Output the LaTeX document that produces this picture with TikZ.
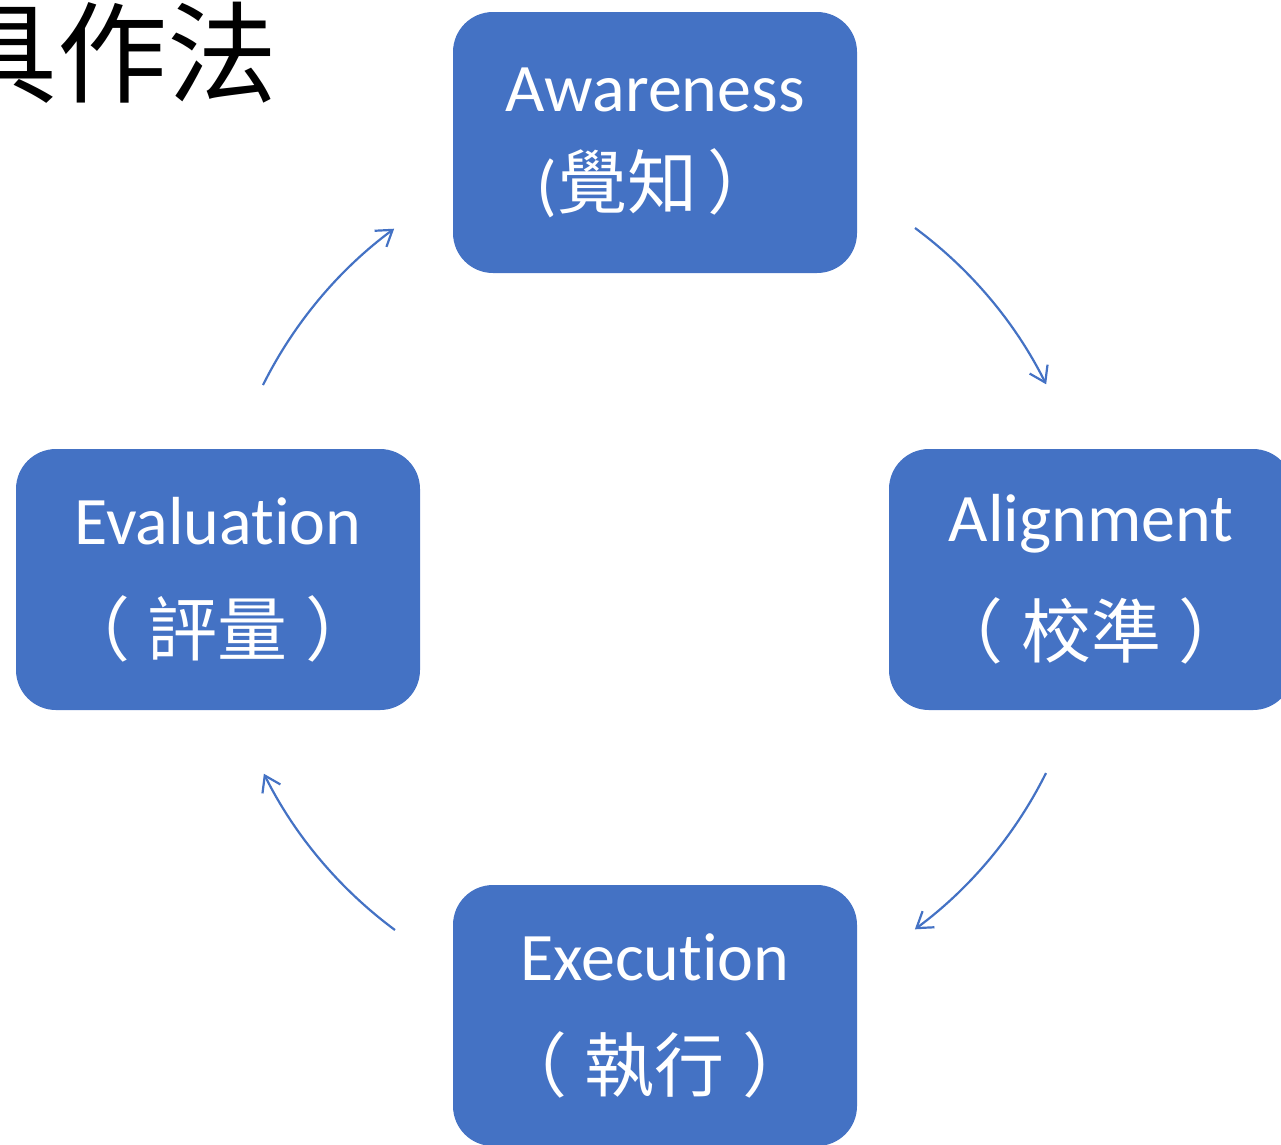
\documentclass[tikz,border=0pt]{standalone}
\usepackage{fontspec}
\setmainfont{Carlito}[Ligatures=NoCommon]
\newfontfamily\cjk{Noto Sans CJK TC}
\usetikzlibrary{arrows.meta}
\definecolor{office}{HTML}{4472C4}
\newcommand{\pgap}{\hspace{18pt}}
\begin{document}
\begin{tikzpicture}[x=1pt,y=-1pt,
  box/.style={fill=office, rounded corners=40pt, minimum width=404pt, minimum height=261pt,
    inner sep=0pt, align=center, text=white, font=\fontsize{68}{68}\selectfont},
  cyc/.style={draw=office, line width=2.2pt,
    -{Straight Barb[length=15pt,width=20pt,line width=2.2pt]}}]
\useasboundingbox (0,0) rectangle (1281,1144);
\clip (0,0) rectangle (1281,1144);

\node[anchor=base east, inner sep=0pt, font=\cjk\fontsize{110}{110}\selectfont] (title) at (278,94) {具作法};

\node[box] (aw) at (655,142.5) {Awareness\\[29pt]\hspace{4pt}({\cjk\fontsize{70}{70}\selectfont 覺知\hspace{10pt}）}};
\node[box] (al) at (1091,579.5) {Alignment\\[43pt]{\cjk\fontsize{70}{70}\selectfont （\pgap 校準\pgap ）}};
\node[box] (ev) at (218,579.5) {Evaluation\\[43pt]{\cjk\fontsize{70}{70}\selectfont （\pgap 評量\pgap ）}};
\node[box] (ex) at (655,1015.5) {Execution\\[43pt]{\cjk\fontsize{70}{70}\selectfont （\pgap 執行\pgap ）}};

\coordinate (s1) at (915,228);
\coordinate (s2) at (1046,773);
\coordinate (s3) at (395,930);
\coordinate (s4) at (263,385);
\draw[cyc] (s1) arc[start angle=-53.5, end angle=-26.5, radius=437];
\draw[cyc] (s2) arc[start angle=26.5, end angle=53.5, radius=437];
\draw[cyc] (s3) arc[start angle=126.5, end angle=153.5, radius=437];
\draw[cyc] (s4) arc[start angle=206.5, end angle=233.5, radius=437];
\end{tikzpicture}
\end{document}
